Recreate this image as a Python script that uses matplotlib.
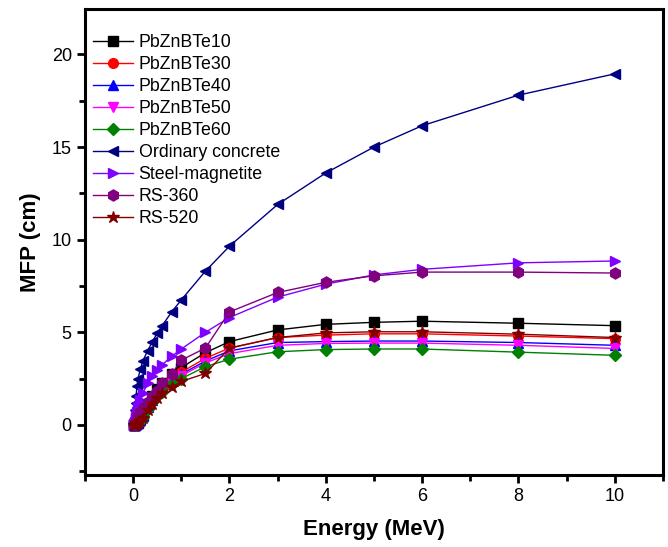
import matplotlib
matplotlib.use('Agg')
import matplotlib.pyplot as plt
from matplotlib.ticker import MultipleLocator

plt.rcParams['font.family'] = ['Liberation Sans', 'DejaVu Sans']

energy = [0.015, 0.02, 0.03, 0.04, 0.05, 0.06, 0.08, 0.1, 0.15, 0.2, 0.3, 0.4,
          0.5, 0.6, 0.8, 1, 1.5, 2, 3, 4, 5, 6, 8, 10]

pbznbte10 = [0.003, 0.006, 0.015, 0.03, 0.05, 0.08, 0.16, 0.12, 0.3, 0.55, 1.1, 1.55,
             1.95, 2.25, 2.75, 3.1, 3.9, 4.5, 5.13, 5.43, 5.54, 5.6, 5.49, 5.36]
pbznbte30 = [0.003, 0.005, 0.013, 0.027, 0.045, 0.07, 0.14, 0.11, 0.27, 0.5, 1.0, 1.42,
             1.78, 2.07, 2.52, 2.85, 3.6, 4.15, 4.72, 4.85, 4.92, 4.92, 4.8, 4.66]
pbznbte40 = [0.002, 0.005, 0.012, 0.025, 0.042, 0.066, 0.13, 0.1, 0.26, 0.48, 0.95, 1.35,
             1.7, 1.98, 2.42, 2.74, 3.45, 4.0, 4.45, 4.5, 4.53, 4.53, 4.45, 4.3]
pbznbte50 = [0.002, 0.005, 0.011, 0.024, 0.04, 0.063, 0.125, 0.1, 0.25, 0.46, 0.92, 1.3,
             1.64, 1.91, 2.34, 2.65, 3.35, 3.85, 4.3, 4.4, 4.42, 4.42, 4.3, 4.13]
pbznbte60 = [0.002, 0.004, 0.01, 0.022, 0.037, 0.058, 0.115, 0.09, 0.23, 0.43, 0.86, 1.22,
             1.54, 1.8, 2.2, 2.5, 3.15, 3.55, 3.95, 4.07, 4.1, 4.1, 3.93, 3.76]
ordinary_concrete = [0.05, 0.13, 0.4, 0.8, 1.2, 1.55, 2.1, 2.5, 3.0, 3.45, 4.0, 4.5,
                     4.95, 5.35, 6.1, 6.75, 8.3, 9.65, 11.9, 13.6, 15.0, 16.15, 17.8, 18.95]
steel_magnetite = [0.01, 0.03, 0.08, 0.18, 0.3, 0.45, 0.7, 0.95, 1.35, 1.7, 2.25, 2.65,
                   2.95, 3.25, 3.7, 4.1, 5.0, 5.8, 6.9, 7.6, 8.1, 8.4, 8.75, 8.85]
rs360 = [0.01, 0.02, 0.05, 0.1, 0.15, 0.22, 0.38, 0.55, 0.7, 0.9, 1.25, 1.55,
         1.85, 2.25, 2.75, 3.5, 4.15, 6.1, 7.15, 7.7, 8.05, 8.25, 8.25, 8.2]
rs520 = [0.002, 0.004, 0.01, 0.02, 0.04, 0.06, 0.12, 0.1, 0.22, 0.4, 0.8, 1.15,
         1.45, 1.7, 2.05, 2.35, 2.78, 4.15, 4.72, 4.97, 5.03, 5.03, 4.9, 4.72]

series = [
    ('PbZnBTe10', pbznbte10, 's', 'black'),
    ('PbZnBTe30', pbznbte30, 'o', 'red'),
    ('PbZnBTe40', pbznbte40, '^', 'blue'),
    ('PbZnBTe50', pbznbte50, 'v', 'magenta'),
    ('PbZnBTe60', pbznbte60, 'D', '#008000'),
    ('Ordinary concrete', ordinary_concrete, '<', '#000080'),
    ('Steel-magnetite', steel_magnetite, '>', '#8000FF'),
    ('RS-360', rs360, 'h', '#800080'),
    ('RS-520', rs520, '*', '#800000'),
]

fig = plt.figure(figsize=(6.68, 5.47), dpi=100)
ax = fig.add_axes([0.1272, 0.1316, 0.8653, 0.852])

for name, vals, mk, col in series:
    ms = 7
    if mk == 'D':
        ms = 6
    elif mk == '*':
        ms = 9
    elif mk == 'h':
        ms = 8
    ax.plot(energy, vals, '-', marker=mk, color=col, lw=1, ms=ms,
            markeredgecolor=col, label=name)

ax.set_xlim(-1, 11)
ax.set_ylim(-2.7, 22.45)

ax.xaxis.set_major_locator(MultipleLocator(2))
ax.xaxis.set_minor_locator(MultipleLocator(1))
ax.yaxis.set_major_locator(MultipleLocator(5))
ax.yaxis.set_minor_locator(MultipleLocator(2.5))

ax.tick_params(which='major', direction='out', length=6, width=2, labelsize=13)
ax.tick_params(which='minor', direction='out', length=4, width=2)
for sp in ax.spines.values():
    sp.set_linewidth(2.2)

ax.set_xlabel('Energy (MeV)', fontsize=16, fontweight='bold', labelpad=10)
ax.set_ylabel('MFP (cm)', fontsize=16, fontweight='bold', labelpad=8)

ax.legend(loc='upper left', frameon=False, fontsize=12.8, handlelength=2.25,
          handletextpad=0.3, labelspacing=0.28, borderaxespad=0.3,
          bbox_to_anchor=(-0.007, 0.972))

fig.savefig('out.png', dpi=100)
